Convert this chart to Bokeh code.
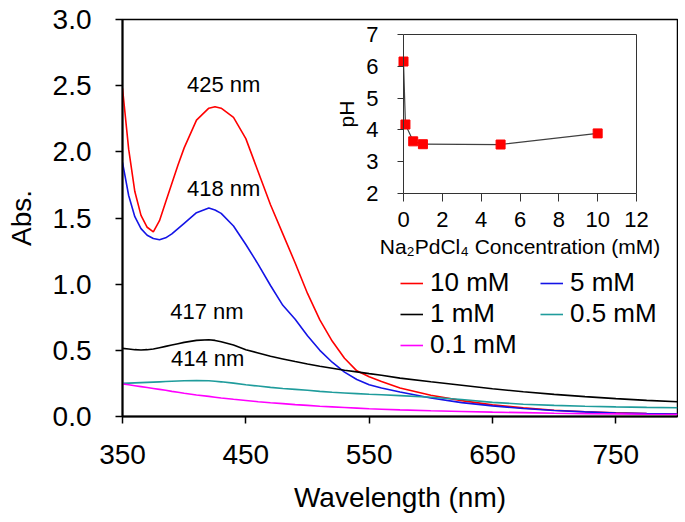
from bokeh.plotting import figure
from bokeh.models import (Legend, LegendItem, FixedTicker, NumeralTickFormatter,
                          LinearAxis, Range1d)
from bokeh.embed import file_html
from bokeh.resources import INLINE
from bokeh.core.properties import value

# ---------------- data ----------------
wavelength = [350, 355, 360, 365, 370, 375, 380, 385, 390, 395, 400, 410, 420, 425, 430, 440,
              450, 460, 470, 480, 490, 500, 510, 520, 530, 540, 550, 560, 575, 600,
              625, 650, 675, 700, 725, 750, 775, 800]

abs_10mM = [2.48, 2.02, 1.70, 1.52, 1.43, 1.395, 1.48, 1.62, 1.76, 1.90, 2.03, 2.24, 2.33, 2.34, 2.33, 2.26,
            2.10, 1.85, 1.60, 1.38, 1.16, 0.93, 0.73, 0.57, 0.44, 0.345, 0.30, 0.265, 0.215, 0.16,
            0.12, 0.088, 0.065, 0.047, 0.036, 0.028, 0.022, 0.018]
abs_5mM = [1.92, 1.67, 1.51, 1.42, 1.37, 1.345, 1.336, 1.35, 1.38, 1.42, 1.46, 1.54, 1.575, 1.56, 1.535, 1.44,
           1.30, 1.15, 0.99, 0.84, 0.735, 0.61, 0.50, 0.41, 0.335, 0.28, 0.24, 0.215, 0.185, 0.14,
           0.105, 0.08, 0.06, 0.045, 0.035, 0.027, 0.022, 0.018]
abs_1mM = [0.515, 0.51, 0.505, 0.503, 0.505, 0.51, 0.52, 0.53, 0.54, 0.55, 0.56, 0.575, 0.58, 0.575, 0.565, 0.54,
           0.505, 0.48, 0.455, 0.435, 0.415, 0.397, 0.38, 0.365, 0.35, 0.337, 0.324, 0.312, 0.29, 0.262,
           0.236, 0.21, 0.187, 0.167, 0.15, 0.135, 0.122, 0.112]
abs_05mM = [0.25, 0.252, 0.254, 0.256, 0.258, 0.26, 0.262, 0.264, 0.266, 0.268, 0.27, 0.272, 0.27, 0.266, 0.262, 0.252,
            0.24, 0.23, 0.22, 0.212, 0.205, 0.198, 0.19, 0.183, 0.178, 0.173, 0.168, 0.164, 0.158, 0.146,
            0.128, 0.107, 0.093, 0.084, 0.078, 0.073, 0.069, 0.066]
abs_01mM = [0.245, 0.24, 0.233, 0.226, 0.219, 0.212, 0.205, 0.198, 0.19, 0.183, 0.176, 0.163, 0.152, 0.146, 0.14, 0.13,
            0.121, 0.112, 0.104, 0.097, 0.09, 0.084, 0.078, 0.073, 0.068, 0.063, 0.058, 0.055, 0.05, 0.043,
            0.038, 0.033, 0.029, 0.025, 0.022, 0.02, 0.017, 0.015]

series_labels = ["10 mM", "5 mM", "1 mM", "0.5 mM", "0.1 mM"]
series_colors = ["#FF0000", "#1414E6", "#000000", "#1F9C9C", "#FF00FF"]

peak_labels = ["425 nm", "418 nm", "417 nm", "414 nm"]
peak_label_x = [432, 432, 418.5, 419]
peak_label_y = [2.51, 1.72, 0.79, 0.44]

x_ticks = [350, 450, 550, 650, 750]
y_ticks = [0.0, 0.5, 1.0, 1.5, 2.0, 2.5, 3.0]

# inset data
conc_mM = [0, 0.1, 0.5, 1, 5, 10]
pH_vals = [6.15, 4.17, 3.64, 3.55, 3.54, 3.89]
inset_x_ticks = [0, 2, 4, 6, 8, 10, 12]
inset_y_ticks = [2, 3, 4, 5, 6, 7]

FONT = "Liberation Sans"

# ---------------- layout (pixels) ----------------
W, H = 678, 522
FRAME_L, FRAME_R, FRAME_T, FRAME_B = 122, 677, 19, 416
INSET_L, INSET_R, INSET_T, INSET_B = 403, 636, 34, 193

ix0, ix1 = inset_x_ticks[0], inset_x_ticks[-1]
iy0, iy1 = inset_y_ticks[0], inset_y_ticks[-1]
sx = (INSET_R - INSET_L) / (ix1 - ix0)
sy = (INSET_B - INSET_T) / (iy1 - iy0)
inset_xr = Range1d(ix0 - (INSET_L - FRAME_L) / sx, ix1 + (FRAME_R - INSET_R) / sx)
inset_yr = Range1d(iy0 - (FRAME_B - INSET_B) / sy, iy1 + (INSET_T - FRAME_T) / sy)

# ---------------- main figure ----------------
p = figure(width=W, height=H, x_range=(350, 800), y_range=(0, 3),
           output_backend="svg", toolbar_location=None,
           min_border_left=FRAME_L, min_border_right=W - FRAME_R, min_border_top=FRAME_T,
           min_border_bottom=H - FRAME_B,
           background_fill_color="white", border_fill_color="white")
p.extra_x_ranges = {"inset_x": inset_xr}
p.extra_y_ranges = {"inset_y": inset_yr}
p.grid.visible = False
p.outline_line_color = "black"
p.outline_line_width = 1.5

renderers = []
for ys, col in zip([abs_10mM, abs_5mM, abs_1mM, abs_05mM, abs_01mM], series_colors):
    r = p.line(wavelength, ys, line_color=col, line_width=1.6)
    renderers.append(r)

p.text(x=peak_label_x, y=peak_label_y, text=peak_labels, text_font=value(FONT),
       text_font_size="22px", text_align="center", text_baseline="middle", text_color="black")

for ax in (p.xaxis[0], p.yaxis[0]):
    ax.axis_line_color = "black"
    ax.axis_line_width = 2
    ax.major_tick_line_color = "black"
    ax.major_tick_line_width = 1.5
    ax.major_tick_out = 7
    ax.major_tick_in = 0
    ax.minor_tick_out = 0
    ax.minor_tick_in = 0
    ax.major_label_text_font = FONT
    ax.major_label_text_font_size = "28px"
    ax.major_label_text_color = "black"
    ax.axis_label_text_font = FONT
    ax.axis_label_text_font_size = "28px"
    ax.axis_label_text_font_style = "normal"
    ax.axis_label_text_color = "black"

p.xaxis[0].ticker = FixedTicker(ticks=x_ticks, minor_ticks=[])
p.yaxis[0].ticker = FixedTicker(ticks=y_ticks, minor_ticks=[])
p.yaxis[0].formatter = NumeralTickFormatter(format="0.0")
p.xaxis[0].axis_label = "Wavelength (nm)"
p.yaxis[0].axis_label = "Abs."
p.xaxis[0].major_label_standoff = 21
p.xaxis[0].axis_label_standoff = 15
p.yaxis[0].major_label_standoff = 24
p.yaxis[0].axis_label_standoff = 13

items = [LegendItem(label=lab, renderers=[r]) for lab, r in zip(series_labels, renderers)]
legend = Legend(items=items, location=(278, 56), orientation="horizontal", ncols=2,
                border_line_alpha=0, background_fill_alpha=0, padding=0, margin=0, spacing=0,
                glyph_width=23, glyph_height=30, label_height=30, label_width=110,
                label_standoff=7, label_text_font=FONT, label_text_font_size="26px",
                label_text_color="black")
p.add_layout(legend)

# ---------------- inset (own ranges, axes pinned inside the frame) ----------------
p.line(conc_mM, pH_vals, line_color="#404040", line_width=1.2,
       x_range_name="inset_x", y_range_name="inset_y")
p.scatter(conc_mM, pH_vals, marker="square", size=9, fill_color="#FF0000", line_color="#FF0000",
          x_range_name="inset_x", y_range_name="inset_y")


def inset_axis(ticks, label, fixed, bounds):
    ax = LinearAxis(x_range_name="inset_x", y_range_name="inset_y",
                    fixed_location=fixed, bounds=bounds,
                    ticker=FixedTicker(ticks=ticks, minor_ticks=[]))
    ax.axis_line_color = "#333333"
    ax.axis_line_width = 1
    ax.major_tick_line_color = "#333333"
    ax.major_tick_line_width = 1
    ax.major_tick_in = 0
    ax.minor_tick_out = 0
    ax.minor_tick_in = 0
    ax.major_label_text_font = FONT
    ax.major_label_text_font_size = "22px"
    ax.major_label_text_color = "black"
    ax.axis_label_text_font = FONT
    ax.axis_label_text_font_size = "21px"
    ax.axis_label_text_font_style = "normal"
    ax.axis_label_text_color = "black"
    if label:
        ax.axis_label = label
    return ax


ax_b = inset_axis(inset_x_ticks, "Na\u2082PdCl\u2084 Concentration (mM)", iy0, (ix0, ix1))
ax_b.major_tick_out = 8
ax_b.major_label_standoff = 10
ax_b.axis_label_standoff = 5
p.add_layout(ax_b, "below")

ax_l = inset_axis(inset_y_ticks, "pH", ix0, (iy0, iy1))
ax_l.major_tick_out = 6
ax_l.major_label_standoff = 19
ax_l.axis_label_standoff = 5
p.add_layout(ax_l, "left")

ax_t = inset_axis([], None, iy1, (ix0, ix1))
ax_t.major_tick_out = 0
ax_t.major_label_text_font_size = "0px"
p.add_layout(ax_t, "above")

ax_r = inset_axis([], None, ix1, (iy0, iy1))
ax_r.major_tick_out = 0
ax_r.major_label_text_font_size = "0px"
p.add_layout(ax_r, "right")

open("out.html", "w").write(file_html(p, INLINE))
